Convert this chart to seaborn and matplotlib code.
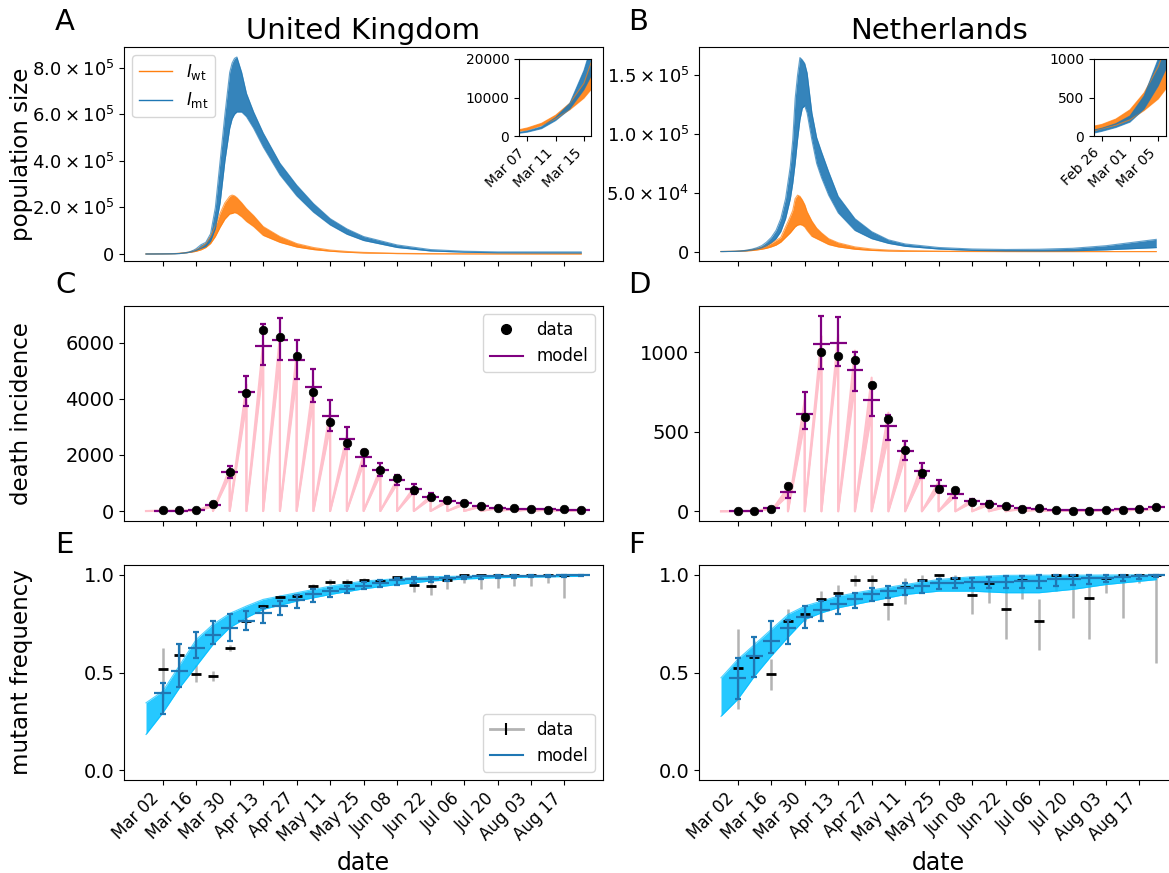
import numpy as np
import pandas as pd
import matplotlib
matplotlib.use("Agg")
import matplotlib.pyplot as plt
import matplotlib.dates as mdates
from matplotlib.lines import Line2D
from matplotlib.ticker import FuncFormatter
import seaborn as sns

# ---- data (days counted from 2020-03-02) ----
start = pd.Timestamp("2020-03-02")
week_days = np.arange(0, 182, 7)          # weekly observation dates, Mar 02 .. Aug 24

# population size, UK (band of simulated trajectories: low / high edge)
uk_pop_days = [-7, -4, 0, 3, 4, 5, 7, 9, 11, 13, 14, 16, 18, 20, 22, 24, 26, 28, 29, 30,
               31, 33, 35, 38, 42, 49, 56, 63, 70, 77, 84, 98, 112, 126, 140, 154, 175]
uk_mt_hi = [100, 200, 450, 800, 1000, 1300, 2400, 4800, 8500, 17000, 23000, 40000, 50000,
            87000, 200000, 400000, 600000, 780000, 820000, 840000, 846000, 780000, 690000,
            610000, 520000, 390000, 296000, 217000, 152000, 108000, 75000, 39000, 19000,
            12000, 9000, 9000, 9000]
uk_mt_lo = [50, 100, 300, 600, 750, 1000, 1900, 4000, 7000, 12000, 15500, 25000, 32000,
            55000, 110000, 220000, 400000, 540000, 580000, 600000, 610000, 610000, 590000,
            540000, 460000, 340000, 250000, 180000, 125000, 85000, 58000, 28000, 13000,
            8000, 5000, 4500, 4000]
uk_wt_hi = [200, 350, 800, 1300, 1700, 2100, 3300, 5400, 8500, 13700, 19000, 28000, 45000,
            75000, 120000, 175000, 220000, 248000, 253000, 250000, 242000, 220000, 195000,
            165000, 118000, 75000, 45000, 28000, 17000, 11000, 7000, 3000, 1500, 800, 500,
            400, 300]
uk_wt_lo = [120, 220, 550, 950, 1250, 1500, 2700, 4500, 6800, 9800, 12000, 18000, 28000,
            45000, 75000, 115000, 150000, 172000, 174000, 178000, 175000, 160000, 140000,
            118000, 80000, 50000, 30000, 19000, 12000, 7500, 4500, 1800, 800, 400, 200,
            150, 100]

# population size, NL
nl_pop_days = [-7, -6, -5, -3, -1, 1, 3, 4, 6, 8, 10, 12, 14, 16, 18, 20, 22, 23, 24, 25,
               26, 27, 28, 29, 31, 33, 35, 38, 42, 49, 56, 63, 70, 84, 98, 112, 126, 140,
               154, 175]
nl_mt_hi = [55, 80, 100, 160, 260, 520, 1000, 1300, 2100, 3300, 5000, 8000, 12000, 18000,
            28000, 45000, 73000, 95000, 130000, 150000, 165000, 163000, 160000, 152000,
            118000, 97000, 85000, 68000, 47000, 28000, 17000, 10000, 6500, 3500, 2200, 1800,
            2000, 2800, 5000, 10400]
nl_mt_lo = [30, 40, 60, 110, 180, 350, 650, 850, 1400, 2200, 3300, 5000, 7500, 11000, 17000,
            28000, 45000, 58000, 75000, 95000, 112000, 122000, 124000, 118000, 95000, 75000,
            63000, 48000, 33000, 18000, 11000, 7000, 4500, 2200, 1000, 500, 400, 600, 1500,
            3400]
nl_wt_hi = [90, 130, 150, 220, 340, 560, 900, 1150, 1700, 2500, 3500, 5000, 7000, 9500,
            12000, 21000, 30000, 35000, 45000, 48000, 47000, 44000, 40000, 34000, 26000,
            20000, 16000, 11000, 7500, 4000, 2200, 1300, 800, 400, 200, 100, 50, 30, 20, 20]
nl_wt_lo = [55, 70, 95, 140, 210, 330, 480, 600, 900, 1400, 2000, 2800, 4000, 5500, 8000,
            12000, 16000, 18500, 21000, 22500, 23000, 22500, 21000, 18000, 13000, 11000,
            9000, 6000, 4000, 2000, 1000, 500, 300, 100, 50, 20, 10, 5, 5, 5]

# weekly death incidence
uk_deaths = [20, 20, 50, 237, 1372, 4188, 6460, 6187, 5536, 4235, 3159, 2413, 2118, 1467,
             1159, 733, 497, 402, 284, 177, 118, 95, 71, 47, 59, 35]
uk_dm = [10, 10, 25, 200, 1384, 4235, 5891, 6092, 5382, 4400, 3371, 2567, 1916, 1455, 1088,
         793, 509, 367, 272, 177, 118, 83, 71, 59, 47, 35]
uk_dm_lo = [0, 0, 5, 150, 1183, 3750, 5205, 5383, 4708, 3868, 2839, 2224, 1621, 1242, 911,
            615, 390, 280, 200, 120, 75, 50, 40, 30, 22, 15]
uk_dm_hi = [20, 25, 50, 260, 1597, 4815, 6660, 6860, 6092, 5051, 3963, 2981, 2188, 1715,
            1266, 970, 640, 470, 350, 240, 170, 125, 110, 95, 80, 65]
uk_saw_lo = [5, 6, 18, 160, 1250, 3850, 5200, 5400, 4800, 3950, 3000, 2300, 1700, 1300, 960,
             680, 430, 310, 225, 150, 95, 65, 55, 45, 35, 25]
uk_saw_hi = [12, 15, 35, 240, 1500, 4500, 6000, 6250, 5600, 4600, 3550, 2700, 2000, 1520,
             1130, 830, 540, 390, 290, 190, 128, 90, 76, 63, 50, 38]

nl_deaths = [0, 4, 17, 159, 593, 1000, 977, 952, 793, 583, 386, 238, 142, 134, 58, 44, 31,
             15, 21, 8, 0, 2, 6, 8, 15, 29]
nl_dm = [0, 2, 19, 123, 612, 1050, 1057, 885, 702, 535, 382, 253, 159, 111, 63, 48, 31, 19,
         13, 8, 6, 6, 8, 13, 17, 25]
nl_dm_lo = [0, 0, 12, 86, 514, 896, 915, 754, 597, 451, 320, 211, 123, 86, 48, 35, 22, 12, 7,
            3, 2, 2, 3, 7, 10, 17]
nl_dm_hi = [2, 5, 28, 169, 750, 1230, 1224, 1004, 775, 608, 441, 301, 194, 140, 80, 62, 42,
            28, 20, 14, 11, 11, 14, 20, 25, 35]
nl_saw_lo = [0, 1, 15, 100, 560, 990, 1000, 800, 620, 470, 340, 225, 140, 95, 55, 40, 25, 14,
             9, 5, 4, 4, 6, 10, 14, 21]
nl_saw_hi = [2, 4, 22, 150, 700, 1100, 1110, 1010, 840, 620, 440, 290, 185, 130, 75, 58, 40,
             25, 17, 11, 8, 8, 11, 16, 21, 30]

# mutant frequency: observed (weekly) with interval
uk_freq = [0.519, 0.592, 0.493, 0.481, 0.626, 0.763, 0.840, 0.886, 0.891, 0.942, 0.964, 0.962,
           0.973, 0.968, 0.988, 0.950, 0.945, 0.971, 1.0, 1.0, 1.0, 1.0, 1.0, 1.0, 1.0]
uk_freq_lo = [0.36, 0.50, 0.450, 0.454, 0.609, 0.746, 0.823, 0.874, 0.874, 0.928, 0.950, 0.945,
              0.960, 0.955, 0.975, 0.911, 0.899, 0.928, 0.959, 0.928, 0.933, 0.942, 0.942,
              0.959, 0.882]
uk_freq_hi = [0.626, 0.647, 0.536, 0.507, 0.643, 0.780, 0.857, 0.899, 0.899, 0.954, 0.976,
              0.976, 0.982, 0.980, 0.995, 0.976, 0.976, 0.993, 1.0, 1.0, 1.0, 1.0, 1.0, 1.0, 1.0]
nl_freq = [0.524, 0.580, 0.490, 0.761, 0.800, 0.874, 0.906, 0.974, 0.971, 0.853, 0.937, 0.974,
           0.997, 0.985, 0.894, 0.956, 0.826, 0.973, 0.763, 1.0, 1.0, 0.882, 0.981, 1.0, 1.0,
           1.0]
nl_freq_lo = [0.314, 0.50, 0.410, 0.70, 0.761, 0.763, 0.823, 0.945, 0.903, 0.771, 0.852, 0.908,
              0.985, 0.970, 0.797, 0.857, 0.669, 0.874, 0.614, 0.916, 0.780, 0.669, 0.908,
              0.780, 0.959, 0.549]
nl_freq_hi = [0.725, 0.66, 0.570, 0.823, 0.840, 0.916, 0.950, 0.997, 0.997, 0.908, 0.985, 1.0,
              1.0, 1.0, 0.976, 0.993, 0.993, 1.0, 0.874, 1.0, 1.0, 1.0, 1.0, 1.0, 1.0, 1.0]

# mutant frequency: model summary (weekly) and trajectory band
uk_fm = [0.396, 0.510, 0.625, 0.690, 0.729, 0.763, 0.805, 0.840, 0.870, 0.903, 0.916, 0.928,
         0.945, 0.959, 0.971, 0.976, 0.980, 0.985, 0.990, 0.992, 0.993, 0.994, 0.995, 0.996,
         0.997, 0.998]
uk_fm_lo = [0.290, 0.425, 0.572, 0.648, 0.660, 0.717, 0.751, 0.792, 0.828, 0.860, 0.886, 0.908,
            0.925, 0.939, 0.950, 0.958, 0.962, 0.970, 0.976, 0.980, 0.983, 0.985, 0.987, 0.989,
            0.991, 0.993]
uk_fm_hi = [0.447, 0.647, 0.706, 0.766, 0.797, 0.814, 0.831, 0.865, 0.894, 0.925, 0.933, 0.945,
            0.962, 0.973, 0.983, 0.988, 0.991, 0.993, 0.995, 0.996, 0.997, 0.998, 0.998, 0.999,
            0.999, 0.999]
nl_fm = [0.473, 0.584, 0.660, 0.729, 0.785, 0.819, 0.852, 0.877, 0.903, 0.916, 0.933, 0.942,
         0.956, 0.959, 0.962, 0.964, 0.964, 0.968, 0.968, 0.976, 0.980, 0.981, 0.985, 0.990,
         0.993, 0.997]
nl_fm_lo = [0.362, 0.478, 0.600, 0.648, 0.729, 0.763, 0.801, 0.831, 0.865, 0.882, 0.899, 0.908,
            0.925, 0.933, 0.933, 0.933, 0.933, 0.933, 0.933, 0.942, 0.950, 0.955, 0.962, 0.967,
            0.980, 0.990]
nl_fm_hi = [0.572, 0.683, 0.763, 0.768, 0.840, 0.865, 0.891, 0.908, 0.933, 0.942, 0.959, 0.968,
            0.976, 0.985, 0.985, 0.990, 0.993, 0.993, 0.997, 0.997, 0.997, 0.998, 0.998, 0.998,
            0.998, 0.999]

freq_days = [-7, 0, 7, 14, 21, 28, 35, 42, 56, 70, 84, 98, 112, 126, 140, 154, 175]
uk_band_lo = [0.183, 0.293, 0.421, 0.532, 0.643, 0.729, 0.780, 0.823, 0.865, 0.899, 0.928,
              0.950, 0.968, 0.978, 0.985, 0.988, 0.992]
uk_band_hi = [0.345, 0.404, 0.536, 0.669, 0.746, 0.802, 0.840, 0.874, 0.908, 0.942, 0.968,
              0.980, 0.990, 0.993, 0.995, 0.996, 0.997]
nl_band_lo = [0.276, 0.362, 0.481, 0.584, 0.680, 0.771, 0.805, 0.831, 0.865, 0.899, 0.916,
              0.916, 0.908, 0.908, 0.925, 0.950, 0.975]
nl_band_hi = [0.473, 0.567, 0.643, 0.720, 0.797, 0.840, 0.865, 0.891, 0.922, 0.950, 0.976,
              0.990, 0.997, 0.998, 0.998, 0.999, 1.0]

# ---- helpers ----
W, H = 1169, 873
base = mdates.date2num(start)
week_x = base + week_days


def px_axes(fig, x0, y0, x1, y1):
    return fig.add_axes([x0 / W, 1 - y1 / H, (x1 - x0) / W, (y1 - y0) / H])


def band(ax, days, lo, hi, color, alpha=0.9):
    x = base + np.asarray(days)
    ax.fill_between(x, lo, hi, color=color, alpha=alpha, lw=0)
    sns.lineplot(x=x, y=hi, ax=ax, color=color, lw=0.8, alpha=0.7)
    sns.lineplot(x=x, y=lo, ax=ax, color=color, lw=0.8, alpha=0.7)


def sci_fmt(v, pos):
    if v == 0:
        return "0"
    e = int(np.floor(np.log10(abs(v))))
    return r"$%.1f \times 10^{%d}$" % (v / 10 ** e, e)


def sawtooth(ax, lo, hi):
    # weekly cumulative incidence: starts at zero each week, ends at weekly total
    xs, ylo, yhi = [], [], []
    for xk, l, h in zip(week_x, lo, hi):
        xs += [xk - 7, xk]
        ylo += [0, l]
        yhi += [0, h]
    ax.fill_between(xs, ylo, yhi, color="pink", lw=0)
    ax.plot(xs, ylo, color="pink", lw=1.5)
    ax.plot(xs, yhi, color="pink", lw=1.5)


def model_cross(ax, x, m, lo, hi, color):
    m, lo, hi = np.asarray(m), np.asarray(lo), np.asarray(hi)
    ax.errorbar(x, m, yerr=[m - lo, hi - m], fmt="none", ecolor=color,
                elinewidth=1.6, capsize=2, capthick=1.6, zorder=4)
    ax.errorbar(x, m, xerr=3.5, fmt="none", ecolor=color, elinewidth=1.6,
                capsize=0, zorder=4)


# ---- figure ----
fig = plt.figure(figsize=(W / 100, H / 100), dpi=100)
plt.rcParams["font.family"] = ["DejaVu Sans"]

boxes = {
    "A": (124, 47, 603, 261), "B": (699, 47, 1178, 261),
    "C": (124, 306, 603, 521), "D": (699, 306, 1178, 521),
    "E": (124, 565, 603, 780), "F": (699, 565, 1178, 780),
}
axs = {k: px_axes(fig, *b) for k, b in boxes.items()}

# row 1: population size
band(axs["A"], uk_pop_days, uk_wt_lo, uk_wt_hi, "tab:orange")
band(axs["A"], uk_pop_days, uk_mt_lo, uk_mt_hi, "tab:blue")
band(axs["B"], nl_pop_days, nl_wt_lo, nl_wt_hi, "tab:orange")
band(axs["B"], nl_pop_days, nl_mt_lo, nl_mt_hi, "tab:blue")
axs["A"].set_ylim(-30000, 889000)
axs["A"].set_yticks([0, 2e5, 4e5, 6e5, 8e5])
axs["B"].set_ylim(-8000, 174000)
axs["B"].set_yticks([0, 5e4, 1e5, 1.5e5])
for k in "AB":
    axs[k].yaxis.set_major_formatter(FuncFormatter(sci_fmt))
axs["A"].set_ylabel("population size")
axs["A"].legend(handles=[Line2D([], [], color="tab:orange", lw=1),
                         Line2D([], [], color="tab:blue", lw=1)],
                labels=[r"$I_{\rm wt}$", r"$I_{\rm mt}$"], loc="upper left", fontsize=12)
axs["A"].set_title("United Kingdom", fontsize=21)
axs["B"].set_title("Netherlands", fontsize=21)

# insets
insets = [
    ("A", 519, uk_pop_days, (uk_wt_lo, uk_wt_hi, uk_mt_lo, uk_mt_hi), (3.8, 14.0),
     [5, 9, 13], 20000, [0, 10000, 20000]),
    ("B", 1094, nl_pop_days, (nl_wt_lo, nl_wt_hi, nl_mt_lo, nl_mt_hi), (-6.1, 4.1),
     [-5, -1, 3], 1000, [0, 500, 1000]),
]
for key, x0, days, (wlo, whi, mlo, mhi), xl, xt, ytop, yt in insets:
    ins = px_axes(fig, x0, 59, x0 + 72, 136)
    band(ins, days, wlo, whi, "tab:orange")
    band(ins, days, mlo, mhi, "tab:blue")
    ins.set_xlim(base + xl[0], base + xl[1])
    ins.set_ylim(0, ytop)
    ins.set_yticks(yt)
    ins.set_xticks(base + np.array(xt))
    ins.xaxis.set_major_formatter(mdates.DateFormatter("%b %d"))
    ins.tick_params(labelsize=10)
    plt.setp(ins.get_xticklabels(), rotation=45, ha="right")
    ins.set_xlabel("")
    ins.set_ylabel("")

# row 2: deaths
for key, saw_lo, saw_hi, m, lo, hi, obs in [
        ("C", uk_saw_lo, uk_saw_hi, uk_dm, uk_dm_lo, uk_dm_hi, uk_deaths),
        ("D", nl_saw_lo, nl_saw_hi, nl_dm, nl_dm_lo, nl_dm_hi, nl_deaths)]:
    ax = axs[key]
    sawtooth(ax, saw_lo, saw_hi)
    model_cross(ax, week_x, m, lo, hi, "purple")
    sns.scatterplot(x=week_x, y=obs, ax=ax, color="black", s=38, edgecolor="black",
                    zorder=5)
axs["C"].set_ylim(-355, 7300)
axs["C"].set_yticks([0, 2000, 4000, 6000])
axs["D"].set_ylim(-61, 1290)
axs["D"].set_yticks([0, 500, 1000])
axs["C"].set_ylabel("death incidence")
axs["C"].legend(handles=[Line2D([], [], color="black", marker="o", ls="none", ms=7),
                         Line2D([], [], color="purple", lw=1.5)],
                labels=["data", "model"], loc="upper right", fontsize=12)

# row 3: mutant frequency
for key, f, flo, fhi, bl, bh, m, lo, hi in [
        ("E", uk_freq, uk_freq_lo, uk_freq_hi, uk_band_lo, uk_band_hi, uk_fm, uk_fm_lo, uk_fm_hi),
        ("F", nl_freq, nl_freq_lo, nl_freq_hi, nl_band_lo, nl_band_hi, nl_fm, nl_fm_lo, nl_fm_hi)]:
    ax = axs[key]
    xd = week_x[:len(f)]
    f, flo, fhi = np.asarray(f), np.asarray(flo), np.asarray(fhi)
    ax.errorbar(xd, f, yerr=[f - flo, fhi - f], fmt="none", ecolor="#b3b3b3",
                elinewidth=1.8, zorder=1)
    band(ax, freq_days, bl, bh, "deepskyblue", alpha=0.85)
    ax.plot(xd, f, ls="none", marker="_", color="black", ms=7, mew=2, zorder=3)
    model_cross(ax, week_x, m, lo, hi, "tab:blue")
    ax.set_ylim(-0.05, 1.05)
    ax.set_yticks([0.0, 0.5, 1.0])
axs["E"].set_ylabel("mutant frequency")
axs["E"].legend(handles=[Line2D([], [], color="#b3b3b3", lw=2, marker="|", mec="black",
                                ms=9, mew=1.5),
                         Line2D([], [], color="tab:blue", lw=1.5)],
                labels=["data", "model"], loc="lower right", fontsize=12)

# shared date axis
for key, ax in axs.items():
    ax.set_xlim(base - 16.2, base + 184.1)
    ax.set_xticks(week_x[::2])
    ax.xaxis.set_major_formatter(mdates.DateFormatter("%b %d"))
    ax.tick_params(axis="y", labelsize=13 if key in "AB" else 14)
    if key in "EF":
        ax.tick_params(axis="x", labelsize=12)
        plt.setp(ax.get_xticklabels(), rotation=45, ha="right")
        ax.set_xlabel("date", fontsize=17)
    else:
        ax.tick_params(axis="x", labelbottom=False)
        ax.set_xlabel("")
    if key in "BDF":
        ax.set_ylabel("")
    else:
        ax.yaxis.label.set_fontsize(16.5)
        ax.yaxis.set_label_coords(-0.19, 0.5)

for letter, (x, y) in zip("ABCDEF", [(55, 22), (628, 22), (55, 285), (628, 285),
                                     (55, 545), (628, 545)]):
    fig.text(x / W, 1 - y / H, letter, fontsize=21, va="center", ha="left")

fig.savefig("out.png", dpi=100)
